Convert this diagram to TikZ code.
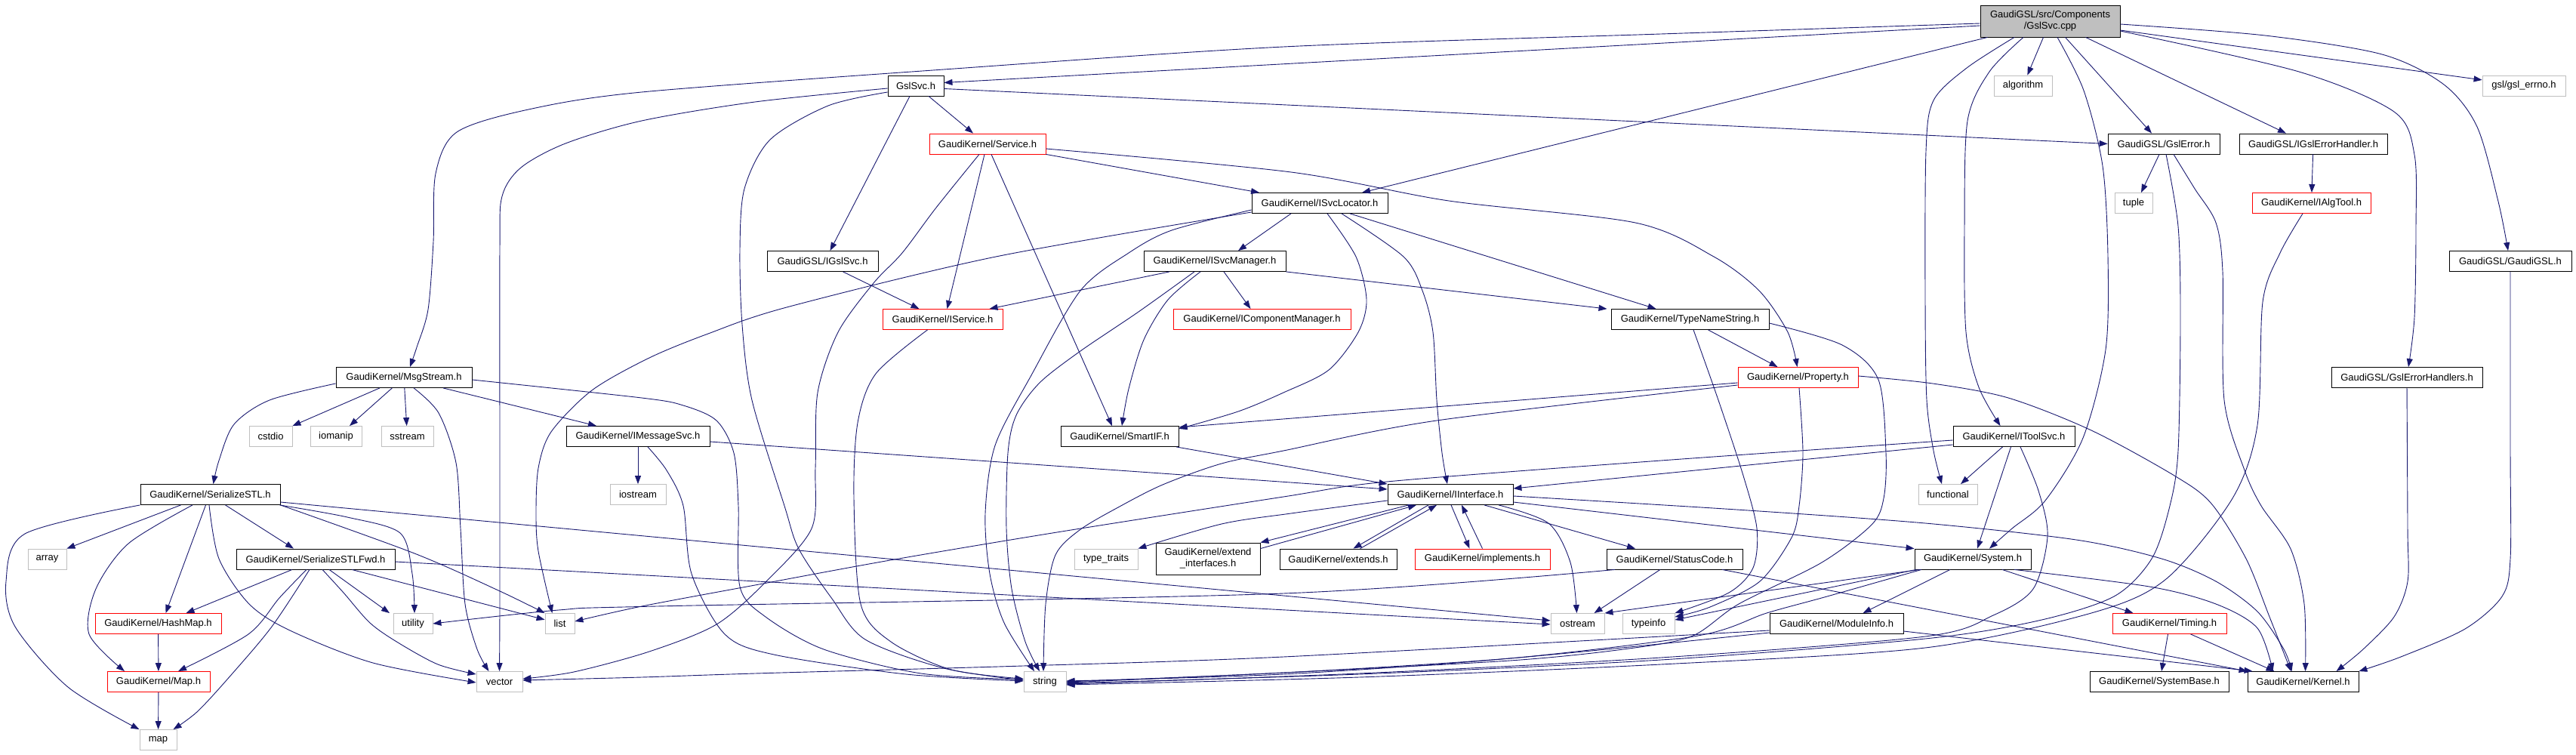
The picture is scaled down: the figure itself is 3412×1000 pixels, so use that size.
\documentclass[tikz,border=0pt]{standalone}
\usepackage{fontspec}
\setmainfont{Liberation Sans}
\usetikzlibrary{arrows.meta}
\definecolor{edgec}{HTML}{191970}
\definecolor{sysc}{HTML}{BFBFBF}
\newcommand\nf{\fontsize{13}{15}\selectfont}
\begin{document}
\begin{tikzpicture}[x=1pt,y=-1pt,font=\nf,
  box/.style={draw=black,fill=white,line width=0.85pt,inner sep=0pt,minimum height=27pt,align=center},
  rbox/.style={box,draw=red},
  sbox/.style={box,draw=sysc},
  mbox/.style={box,fill=sysc},
  e/.style={draw=edgec,line width=0.9pt,line join=round,-{Triangle[length=11pt,width=8pt]}},
  sm/.style={smooth,tension=.5}]
\useasboundingbox (0,0) rectangle (3412,1000);
% ---------------- nodes ----------------
\node[mbox,minimum width=185pt,minimum height=42pt] (main) at (2715.5,28) {GaudiGSL/src/Components\\/GslSvc.cpp};
\node[box,minimum width=74pt] (gslsvc) at (1213,113.5) {GslSvc.h};
\node[sbox,minimum width=77pt] (algorithm) at (2679.5,113.5) {algorithm};
\node[sbox,minimum width=110pt] (gslerrno) at (3343,113.5) {gsl/gsl\_errno.h};
\node[rbox,minimum width=154pt] (service) at (1308,190.5) {GaudiKernel/Service.h};
\node[box,minimum width=148pt] (gslerror) at (2866,190.5) {GaudiGSL/GslError.h};
\node[box,minimum width=196pt] (igslerrh) at (3064,190.5) {GaudiGSL/IGslErrorHandler.h};
\node[box,minimum width=180pt] (isvcloc) at (1748,269) {GaudiKernel/ISvcLocator.h};
\node[sbox,minimum width=50pt] (tuple) at (2826,269) {tuple};
\node[rbox,minimum width=157pt] (ialgtool) at (3061.5,269) {GaudiKernel/IAlgTool.h};
\node[box,minimum width=147pt] (igslsvc) at (1089.5,346) {GaudiGSL/IGslSvc.h};
\node[box,minimum width=188pt] (isvcman) at (1609,346) {GaudiKernel/ISvcManager.h};
\node[box,minimum width=162pt] (gaudigsl) at (3325,346) {GaudiGSL/GaudiGSL.h};
\node[rbox,minimum width=159pt] (iservice) at (1248.5,423) {GaudiKernel/IService.h};
\node[rbox,minimum width=235pt] (icompman) at (1671.5,423) {GaudiKernel/IComponentManager.h};
\node[box,minimum width=209pt] (typename) at (2238.5,423) {GaudiKernel/TypeNameString.h};
\node[box,minimum width=180pt] (msgstream) at (535,500) {GaudiKernel/MsgStream.h};
\node[rbox,minimum width=159pt] (property) at (2381.5,500) {GaudiKernel/Property.h};
\node[box,minimum width=200pt] (gslerrhs) at (3188,500) {GaudiGSL/GslErrorHandlers.h};
\node[sbox,minimum width=57pt] (cstdio) at (358.5,578) {cstdio};
\node[sbox,minimum width=68pt] (iomanip) at (445,578) {iomanip};
\node[sbox,minimum width=69pt] (sstream) at (539.5,578) {sstream};
\node[box,minimum width=190pt] (imsgsvc) at (845,578) {GaudiKernel/IMessageSvc.h};
\node[box,minimum width=156pt] (smartif) at (1483,578) {GaudiKernel/SmartIF.h};
\node[box,minimum width=161pt] (itoolsvc) at (2667.5,578) {GaudiKernel/IToolSvc.h};
\node[sbox,minimum width=74pt] (iostream) at (845,655) {iostream};
\node[box,minimum width=185pt] (serstl) at (278.5,655) {GaudiKernel/SerializeSTL.h};
\node[box,minimum width=166pt] (interface) at (1921,655) {GaudiKernel/IInterface.h};
\node[sbox,minimum width=78pt] (functional) at (2580,655) {functional};
\node[sbox,minimum width=51pt] (array) at (62.5,740.5) {array};
\node[box,minimum width=210pt] (serstlfwd) at (418,740.5) {GaudiKernel/SerializeSTLFwd.h};
\node[sbox,minimum width=84pt] (typetraits) at (1465,740.5) {type\_traits};
\node[box,minimum width=138pt,minimum height=42pt] (extintf) at (1600,740) {GaudiKernel/extend\\\_interfaces.h};
\node[box,minimum width=155pt] (extends) at (1772.5,740.5) {GaudiKernel/extends.h};
\node[rbox,minimum width=179pt] (implements) at (1963.5,740.5) {GaudiKernel/implements.h};
\node[box,minimum width=180pt] (statuscode) at (2218,740.5) {GaudiKernel/StatusCode.h};
\node[box,minimum width=154pt] (system) at (2613,740.5) {GaudiKernel/System.h};
\node[rbox,minimum width=167pt] (hashmap) at (209.5,826) {GaudiKernel/HashMap.h};
\node[sbox,minimum width=52pt] (utility) at (547,826) {utility};
\node[sbox,minimum width=39pt] (list) at (741.5,826) {list};
\node[sbox,minimum width=71pt] (ostream) at (2089.5,826) {ostream};
\node[sbox,minimum width=69pt] (typeinfo) at (2183.5,826) {typeinfo};
\node[box,minimum width=177pt] (moduleinfo) at (2432.5,826) {GaudiKernel/ModuleInfo.h};
\node[rbox,minimum width=151pt] (timing) at (2873.5,826) {GaudiKernel/Timing.h};
\node[rbox,minimum width=136pt] (maph) at (210,903) {GaudiKernel/Map.h};
\node[sbox,minimum width=61pt] (vector) at (661.5,903) {vector};
\node[sbox,minimum width=56pt] (string) at (1384,903) {string};
\node[box,minimum width=184pt] (systembase) at (2860,903) {GaudiKernel/SystemBase.h};
\node[box,minimum width=147pt] (kernel) at (3050.5,903) {GaudiKernel/Kernel.h};
\node[sbox,minimum width=49pt] (map) at (209.5,980) {map};
% ---------------- edges ----------------
% main
\draw[e] ([yshift=-6]main.west) -- ([yshift=4]gslsvc.east);
\draw[e] plot[sm] coordinates {([yshift=-3]main.west) (2200,45) (1700,62) (1250,92) (850,122) (700,145) (605,175) (577,230) (574,320) (567,410) (552,460) ([xshift=8]msgstream.north)};
\draw[e] ([xshift=-83]main.south) -- ([xshift=56]isvcloc.north);
\draw[e] (main) -- (algorithm);
\draw[e] ([xshift=20]main.south) -- ([xshift=-16]gslerror.north);
\draw[e] ([xshift=47]main.south) -- ([xshift=-36]igslerrh.north);
\draw[e] ([yshift=-12]main.east) -- (gslerrno);
\draw[e] plot[sm] coordinates {([yshift=-4]main.east) (3000,47) (3155,72) (3237,112) (3281,168) (3309,267) ([xshift=-3]gaudigsl.north)};
\draw[e] plot[sm] coordinates {([yshift=-13]main.east) (3045,95) (3171,148) (3198,205) (3200,300) (3198,420) ([xshift=2]gslerrhs.north)};
\draw[e] plot[sm] coordinates {([xshift=-35.5]main.south) (2635,95) (2606,160) (2602,300) (2604,440) (2621,513) ([xshift=-18]itoolsvc.north)};
\draw[e] plot[sm] coordinates {([xshift=-47.5]main.south) (2605,90) (2561,133) (2551,200) (2550,400) (2552,530) (2561,597) ([xshift=-8]functional.north)};
\draw[e] plot[sm] coordinates {([xshift=9.5]main.south) (2760,120) (2785,220) (2792,340) (2789,463) (2759,580) (2709,663) (2665,700) ([xshift=22]system.north)};
% GslSvc.h
\draw[e] ([xshift=17]gslsvc.south) -- ([xshift=-19]service.north);
\draw[e] ([xshift=-8]gslsvc.south) -- ([xshift=10]igslsvc.north);
\draw[e] ([yshift=-4]gslsvc.east) -- (gslerror.west);
\draw[e] plot[sm] coordinates {([yshift=-3.5]gslsvc.west) (1000,135) (850,160) (749,190) (690,222) (665,260) (662,330) (662,600) (662,800) (vector.north)};
\draw[e] plot[sm] coordinates {([yshift=-8.5]gslsvc.west) (1097,140) (1020,185) (986,250) (980,330) (983,430) (996,530) (1039,670) (1058,727) (1102,793) (1146,847) (1250,885) ([yshift=2]string.west)};
% Service.h
\draw[e] (service.south east) -- ([xshift=-80]isvcloc.north);
\draw[e] ([xshift=-4]service.south) -- ([xshift=6]iservice.north);
\draw[e] ([xshift=5]service.south) -- ([xshift=-10]smartif.north);
\draw[e] plot[sm] coordinates {([yshift=-6.5]service.east) (1710,228) (1919,266) (2166,295) (2270,340) (2330,385) (2368,440) ([xshift=-1]property.north)};
\draw[e] plot[sm] coordinates {([xshift=-11]service.south) (1240,275) (1195,335) (1157,375) (1110,440) (1083,520) (1080,620) (1075,700) (1015,770) (949,827) (860,863) (760,890) ([yshift=4]vector.east)};
% GslError.h
\draw[e] ([xshift=-6]gslerror.south) -- ([xshift=10]tuple.north);
\draw[e] plot[sm] coordinates {([xshift=3]gslerror.south) (2885,300) (2888,420) (2885,597) (2874,670) (2850,740) (2800,790) (2700,822) (2550,846) (2200,874) (1800,893) ([yshift=-2]string.east)};
\draw[e] plot[sm] coordinates {([xshift=13]gslerror.south) (2907,250) (2935,295) (2944,360) (2946,530) (2973,623) (2995,670) (3034,727) (3052,800) ([xshift=3]kernel.north)};
% IGslErrorHandler / IAlgTool
\draw[e] (igslerrh) -- (ialgtool);
\draw[e] plot[sm] coordinates {([xshift=-11.5]ialgtool.south) (3020,335) (2997,400) (2990,563) (2957,660) (2869,767) (2770,812) (2550,858) (2200,880) (1800,897) ([yshift=-4]string.east)};
% ISvcLocator.h
\draw[e] ([xshift=-38]isvcloc.south) -- ([xshift=31]isvcman.north);
\draw[e] ([xshift=40]isvcloc.south) -- ([xshift=-45]typename.north);
\draw[e] plot[sm] coordinates {([xshift=10]isvcloc.south) (1796,340) (1810,397) (1799,440) (1760,490) (1700,520) (1640,545) ([yshift=10]smartif.east)};
\draw[e] plot[sm] coordinates {([xshift=29]isvcloc.south) (1859,340) (1884,385) (1898,440) (1903,530) (1910,600) ([xshift=-4]interface.north)};
\draw[e] plot[sm] coordinates {([yshift=-9]isvcloc.west) (1552,305) (1495,335) (1431,385) (1366,497) (1318,590) (1305,680) (1311,760) (1330,825) ([xshift=-14]string.north)};
\draw[e] plot[sm] coordinates {([yshift=-12]isvcloc.west) (1319,340) (1042,407) (938,442) (860,474) (784,517) (730,572) (713,620) (710,680) (713,730) ([xshift=-10]list.north)};
% IGslSvc.h / ISvcManager.h
\draw[e] ([xshift=27]igslsvc.south) -- ([xshift=-31]iservice.north);
\draw[e] ([xshift=-60]isvcman.south) -- ([xshift=62]iservice.north);
\draw[e] ([xshift=12]isvcman.south) -- ([xshift=-15]icompman.north);
\draw[e] (isvcman.south east) -- ([xshift=-110]typename.north);
\draw[e] plot[sm] coordinates {([xshift=-19]isvcman.south) (1547,397) (1515,450) (1495,515) ([xshift=3]smartif.north)};
\draw[e] plot[sm] coordinates {([xshift=-27]isvcman.south) (1508,413) (1431,465) (1377,507) (1346,550) (1335,600) (1333,700) (1340,780) (1358,850) ([xshift=-7]string.north)};
% IService.h
\draw[e] plot[sm] coordinates {([xshift=-20]iservice.south) (1160,495) (1136,560) (1131,660) (1140,800) (1180,850) (1260,887) ([yshift=4]string.west)};
% TypeNameString.h
\draw[e] ([xshift=24]typename.south) -- ([xshift=-27]property.north);
\draw[e] plot[sm] coordinates {([xshift=4.5]typename.south) (2276,530) (2309,630) (2327,700) (2322,752) (2290,785) (typeinfo.north east)};
\draw[e] plot[sm] coordinates {([yshift=-5]typename.east) (2440,457) (2488,503) (2498,600) (2495,660) (2479,695) (2413,745) (2303,800) (2240,843) (2150,860) (2000,875) (1700,891) ([yshift=-1]string.east)};
% Property.h
\draw[e] ([yshift=-7]property.west) -- ([yshift=12]smartif.east);
\draw[e] plot[sm] coordinates {([yshift=-10]property.west) (1903,557) (1700,597) (1618,614) (1540,642) (1481,672) (1430,702) (1398,735) (1385,800) ([xshift=-2]string.north)};
\draw[e] plot[sm] coordinates {([xshift=1.5]property.south) (2388,600) (2383,670) (2373,712) (2331,770) (2265,804) ([yshift=-5]typeinfo.north east)};
\draw[e] plot[sm] coordinates {([yshift=2]property.east) (2560,508) (2660,527) (2770,570) (2880,630) (2929,667) (2975,740) (3006,817) ([xshift=-16]kernel.north)};
% GslErrorHandlers.h / GaudiGSL.h
\draw[e] plot[sm] coordinates {(gslerrhs.south) (3189,700) (3189,770) (3171,817) (3130,860) ([xshift=44]kernel.north)};
\draw[e] plot[sm] coordinates {(gaudigsl.south) (3325,600) (3325,740) (3314,790) (3265,833) (3180,870) (kernel.north east)};
% MsgStream.h
\draw[e] (msgstream) -- (cstdio.north east);
\draw[e] (msgstream) -- ([xshift=18]iomanip.north);
\draw[e] (msgstream) -- (sstream);
\draw[e] ([xshift=52]msgstream.south) -- ([xshift=-55]imsgsvc.north);
\draw[e] plot[sm] coordinates {([yshift=-8]msgstream.west) (357,530) (310,562) (290,610) ([xshift=4]serstl.north)};
\draw[e] plot[sm] coordinates {([xshift=13]msgstream.south) (581,547) (604,613) (610,700) (616,800) (632,860) ([xshift=-14]vector.north)};
\draw[e] plot[sm] coordinates {([yshift=-3]msgstream.east) (850,527) (905,537) (949,557) (972,600) (978,670) (980,777) (1014,817) (1091,860) (1220,892) ([yshift=3]string.west)};
% IMessageSvc.h
\draw[e] (imsgsvc) -- (iostream);
\draw[e] ([yshift=-7]imsgsvc.east) -- ([yshift=7]interface.west);
\draw[e] plot[sm] coordinates {([xshift=13]imsgsvc.south) (883,623) (905,670) (916,760) (960,840) (1025,867) (1200,893) ([yshift=1]string.west)};
% SmartIF.h
\draw[e] ([xshift=75]smartif.south) -- (interface.north west);
% IToolSvc.h
\draw[e] ([yshift=-11]itoolsvc.west) -- ([yshift=8]interface.east);
\draw[e] plot[sm] coordinates {([yshift=-5]itoolsvc.west) (2200,610) (1837,638) (1700,658) (1400,705) (1179,742) (1000,775) (850,803) ([yshift=3]list.east)};
\draw[e] ([xshift=-15]itoolsvc.south) -- ([xshift=17]functional.north);
\draw[e] ([xshift=-4]itoolsvc.south) -- ([xshift=6]system.north);
\draw[e] plot[sm] coordinates {([xshift=8.5]itoolsvc.south) (2700,650) (2712,710) (2693,780) (2640,815) (2550,843) (2200,871) (1800,892) ([yshift=-3]string.east)};
% SerializeSTL.h
\draw[e] ([xshift=-39]serstl.south) -- (array.north east);
\draw[e] ([xshift=20]serstl.south) -- ([xshift=-29]serstlfwd.north);
\draw[e] ([xshift=-6]serstl.south) -- ([xshift=10]hashmap.north);
\draw[e] ([yshift=-10]serstl.east) -- ([yshift=4]ostream.west);
\draw[e] plot[sm] coordinates {([xshift=-23.5]serstl.south) (170,720) (127,780) (118,840) ([xshift=-45]maph.north)};
\draw[e] plot[sm] coordinates {(serstl.south west) (33,707) (8,770) (20,830) (90,910) ([xshift=-25]map.north)};
\draw[e] plot[sm] coordinates {([xshift=-1.5]serstl.south) (290,740) (330,800) (384,835) (494,878) ([yshift=-1]vector.west)};
\draw[e] plot[sm] coordinates {([xshift=-1]serstl.south east) (460,685) (530,706) (546,760) ([xshift=2]utility.north)};
\draw[e] plot[sm] coordinates {(serstl.south east) (549,733) (660,782) (list.north west)};
% SerializeSTLFwd.h
\draw[e] ([xshift=-31]serstlfwd.south) -- ([xshift=37]hashmap.north);
\draw[e] plot[sm] coordinates {([xshift=-12]serstlfwd.south) (370,792) (329,840) ([xshift=26]maph.north)};
\draw[e] plot[sm] coordinates {([xshift=-8]serstlfwd.south) (360,830) (307,893) (262,942) ([xshift=20]map.north)};
\draw[e] plot[sm] coordinates {([xshift=9]serstlfwd.south) (455,785) (490,825) (527,851) (580,880) ([yshift=10]vector.west)};
\draw[e] ([xshift=18]serstlfwd.south) -- ([xshift=-31]utility.north);
\draw[e] ([xshift=48]serstlfwd.south) -- (list);
\draw[e] ([yshift=-3.5]serstlfwd.east) -- ([yshift=-1]ostream.west);
% HashMap / Map
\draw[e] (hashmap) -- (maph);
\draw[e] (maph) -- (map);
% IInterface.h
\draw[e] ([xshift=-55]interface.south) -- (extintf.north east);
\draw[e] ([yshift=-8]extintf.north east) -- ([xshift=-45]interface.south);
\draw[e] ([xshift=-29]interface.south) -- ([xshift=20]extends.north);
\draw[e] ([xshift=29]extends.north) -- ([xshift=-18]interface.south);
\draw[e] ([xshift=1]interface.south) -- ([xshift=-17]implements.north);
\draw[e] (implements.north) -- ([xshift=15]interface.south);
\draw[e] plot[sm] coordinates {([yshift=-8]interface.west) (1710,680) (1618,694) (typetraits.north east)};
\draw[e] plot[sm] coordinates {([xshift=64]interface.south) (2051,693) (2080,745) ([xshift=-1]ostream.north)};
\draw[e] ([xshift=45]interface.south) -- ([xshift=-52]statuscode.north);
\draw[e] ([yshift=-10]interface.east) -- (system.north west);
\draw[e] plot[sm] coordinates {([yshift=-2]interface.east) (2300,675) (2550,693) (2750,715) (2863,740) (2935,770) (2990,810) (3025,860) ([xshift=-15]kernel.north)};
% StatusCode.h
\draw[e] ([xshift=-19]statuscode.south) -- ([xshift=22]ostream.north);
\draw[e] ([xshift=63]statuscode.south) -- (kernel.north west);
\draw[e] plot[sm] coordinates {([xshift=-79]statuscode.south) (1700,786) (870,803) (740,808) (utility.east)};
% System.h
\draw[e] ([xshift=-75]system.south) -- ([yshift=-9]typeinfo.north east);
\draw[e] ([xshift=-70]system.south) -- (ostream.north east);
\draw[e] plot[sm] coordinates {([xshift=-68]system.south) (2420,790) (2340,812) (2249,842) (2000,872) (1700,893) ([yshift=1]string.east)};
\draw[e] ([xshift=-30]system.south) -- ([xshift=35]moduleinfo.north);
\draw[e] ([xshift=39]system.south) -- ([xshift=-48]timing.north);
\draw[e] plot[sm] coordinates {([xshift=55]system.south) (2847,777) (2935,800) (2990,832) ([xshift=-40]kernel.north)};
% ModuleInfo.h
\draw[e] plot[sm] coordinates {([yshift=-9]moduleinfo.west) (1700,870) (1355,882) (1000,892) (850,897) ([yshift=2]vector.east)};
\draw[e] plot[sm] coordinates {([yshift=-12]moduleinfo.west) (2000,872) (1700,891) (string.east)};
\draw[e] ([yshift=-10]moduleinfo.east) -- ([xshift=7]kernel.north west);
% Timing.h
\draw[e] ([xshift=-2]timing.south) -- ([xshift=3]systembase.north);
\draw[e] ([xshift=28]timing.south) -- ([xshift=-38]kernel.north);
\end{tikzpicture}
\end{document}
